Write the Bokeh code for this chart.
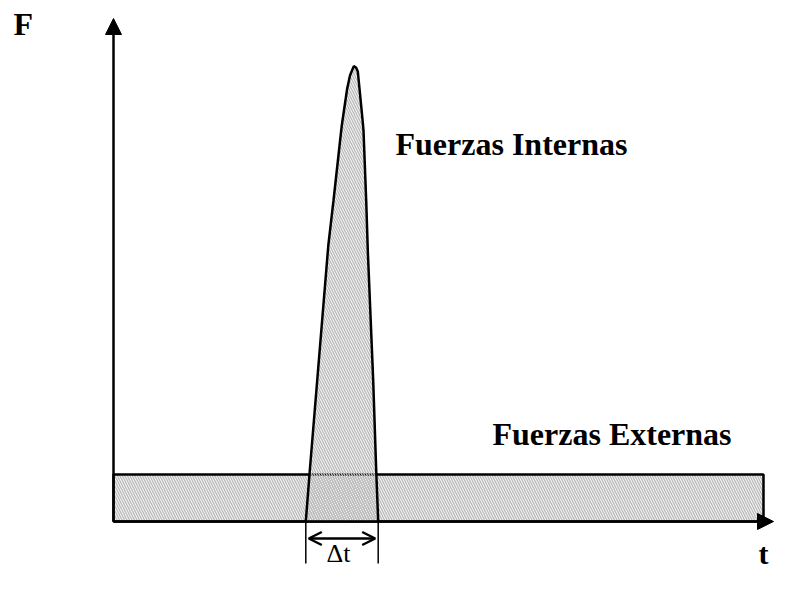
from bokeh.plotting import figure
from bokeh.models import Range1d, Arrow, NormalHead, OpenHead, Label
from bokeh.embed import file_html
from bokeh.resources import INLINE

# ---- data (arbitrary units: t horizontally, F vertically) ----
ext_t_start = 0.0
ext_t_end = 650.0
ext_force = 47.0

pulse_t = [192.3, 196.3, 203.7, 214.8, 220.0, 227.7, 228.7, 233.7, 236.5, 238.5, 240.3,
           242.5, 244.3, 246.0, 249.3, 250.0, 252.7, 254.3, 259.7, 262.7, 264.7]
pulse_f = [0.0, 51.0, 141.0, 276.0, 321.0, 391.0, 399.0, 433.0, 446.0, 451.0, 455.3,
           454.0, 450.0, 433.0, 399.0, 391.0, 321.0, 271.0, 141.0, 51.0, 0.0]

t_axis_max = 660.0
f_axis_max = 503.0

label_internas = "Fuerzas Internas"
label_externas = "Fuerzas Externas"
label_f = "F"
label_t = "t"
label_dt = "\u0394t"

W, H = 775, 573
p = figure(width=W, height=H, output_backend="svg", toolbar_location=None,
           x_range=Range1d(-113, W - 113), y_range=Range1d(-52, H - 52),
           min_border=0)
p.axis.visible = False
p.grid.visible = False
p.outline_line_color = None
p.background_fill_color = "white"

HATCH = "#bdbdbd"

# external forces rectangle
p.quad(left=[ext_t_start], right=[ext_t_end], bottom=[0], top=[ext_force],
       fill_color=None, line_color="black", line_width=2.5,
       hatch_pattern="\\", hatch_color=HATCH, hatch_scale=5, hatch_weight=1.5)

# internal force pulse
p.patch(pulse_t, pulse_f, fill_color=None, line_color=None,
        hatch_pattern="\\", hatch_color=HATCH, hatch_scale=5, hatch_weight=1.5)
p.line(pulse_t, pulse_f, line_color="black", line_width=2.5)

# axes with arrows
p.add_layout(Arrow(end=NormalHead(size=16, fill_color="black", line_color="black"),
                   x_start=0, y_start=0, x_end=t_axis_max, y_end=0,
                   line_width=2.5, line_color="black"))
p.add_layout(Arrow(end=NormalHead(size=16, fill_color="black", line_color="black"),
                   x_start=0, y_start=0, x_end=0, y_end=f_axis_max,
                   line_width=2.5, line_color="black"))

# delta t dimension lines
dt_start = pulse_t[0]
dt_end = pulse_t[-1]
p.segment(x0=[dt_start, dt_end], y0=[0, 0], x1=[dt_start, dt_end], y1=[-42, -42],
          line_color="black", line_width=1.5)
p.add_layout(Arrow(start=OpenHead(size=13, line_width=2.5, line_color="black"),
                   end=OpenHead(size=13, line_width=2.5, line_color="black"),
                   x_start=dt_start + 3, y_start=-17, x_end=dt_end - 3, y_end=-17,
                   line_width=2.5, line_color="black"))

FONT = "Liberation Serif"
def lab(x, y, text, bold=True, size="32px"):
    p.add_layout(Label(x=x, y=y, text=text, text_font=FONT,
                       text_font_style="bold" if bold else "normal",
                       text_font_size=size, text_color="black",
                       text_align="left", text_baseline="alphabetic"))

lab(282, 378, label_internas)
lab(379, 88, label_externas)
lab(-100, 498, label_f)
lab(645, -32, label_t, size="30px")
lab(213, -32, label_dt, bold=False, size="26px")

open("out.html", "w").write(file_html(p, INLINE))
